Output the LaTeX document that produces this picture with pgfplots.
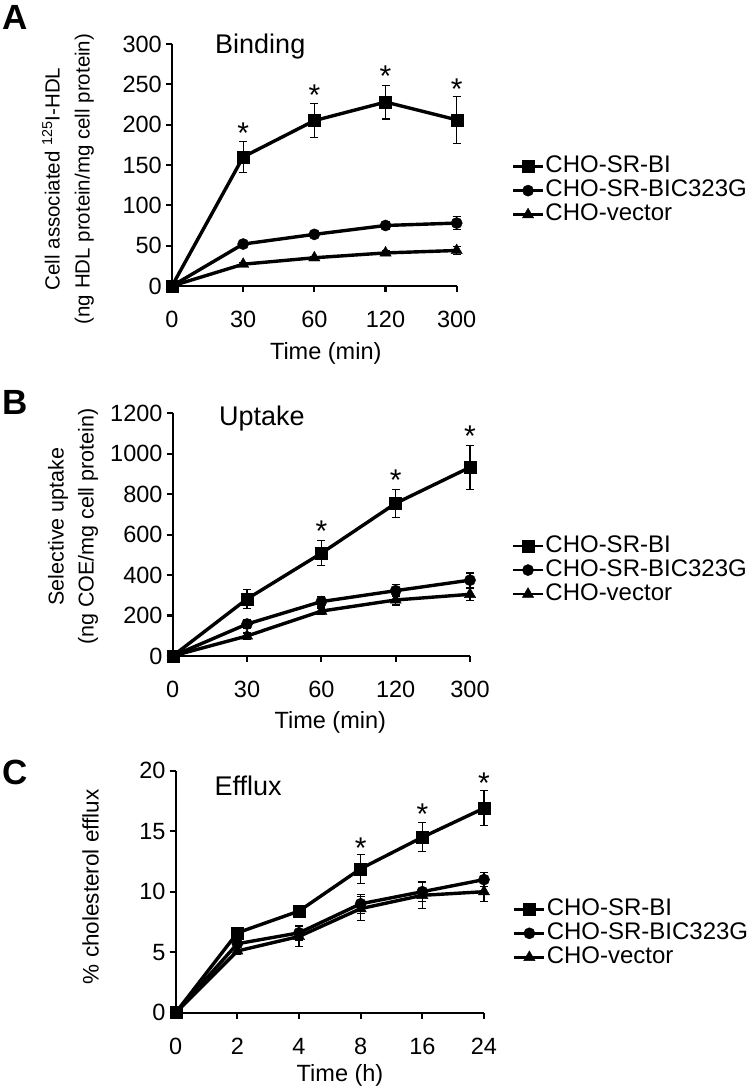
\documentclass[border=0pt]{standalone}
\usepackage{fontspec}
\setmainfont{Liberation Sans}
\usepackage{pgfplots}
\pgfplotsset{compat=1.18}

\pgfplotsset{
  base/.style={
    scale only axis, clip=false,
    axis x line*=bottom, axis y line*=left,
    axis line style={line width=2.2pt, black},
    every tick/.style={line width=2.2pt, black},
    tick align=outside, major tick length=6pt,
    xtick pos=bottom, ytick pos=left,
    /pgf/number format/assume math mode=true,
    /pgf/number format/1000 sep={},
    scaled y ticks=false,
    tick label style={font=\fontsize{23.5}{27}\selectfont},
    yticklabel style={inner sep=4pt},
    xticklabel style={inner sep=3pt, yshift=-16pt},
    xlabel style={font=\fontsize{23.5}{27}\selectfont, anchor=center},
    ylabel style={align=center, anchor=center},
    title style={font=\fontsize{27}{30}\selectfont, anchor=center},
    legend style={draw=none, fill=none, anchor=west, inner sep=0pt, outer sep=0pt,
      font=\fontsize{24}{25}\selectfont, row sep=0pt,
      nodes={inner sep=1pt, text height=17pt, text depth=5pt}},
    legend cell align=left,
    legend image code/.code={\draw[##1, line width=2.8pt, mark repeat=2, mark phase=2] plot coordinates {(0pt,0pt) (15pt,0pt) (30pt,0pt)};},
  },
  ser/.style={black, line width=3.4pt, mark options={solid, line width=0.4pt},
    error bars/y dir=both, error bars/y explicit,
    error bars/error bar style={line width=1.2pt, solid},
    error bars/error mark options={rotate=90, mark size=4pt, line width=1.2pt}},
  sq/.style={ser, mark=square*, mark size=6pt},
  ci/.style={ser, mark=*, mark size=5.6pt},
  tr/.style={ser, mark=triangle*, mark size=6.5pt},
  star/.style={only marks, forget plot, mark=text, text mark={*}, text mark as node=true,
    text mark style={font=\fontsize{30}{30}\selectfont, yshift=-6pt}},
}

\begin{document}
\begin{tikzpicture}[x=1pt,y=1pt]
\path[use as bounding box] (0,0) rectangle (747,1086);

% Panel A
\begin{axis}[base, at={(172pt,800pt)}, anchor=south west,
  width=284.7pt, height=242pt,
  xmin=0, xmax=4, ymin=0, ymax=300,
  xtick={0,1,2,3,4}, xticklabels={0,30,60,120,300},
  ytick={0,50,100,150,200,250,300},
  xlabel={Time (min)}, xlabel style={at={(axis description cs:0.54,-0.278)}},
  ylabel={Cell associated \textsuperscript{125}I-HDL\\(ng HDL protein/mg cell protein)},
  ylabel style={font=\fontsize{20.5}{30}\selectfont, at={(axis description cs:-0.365,0.442)}},
  title={Binding}, title style={at={(axis description cs:0.31,0.963)}},
  legend style={at={(axis description cs:1.193,0.394)}},
]
\addplot[sq] coordinates {(0,0) +- (0,0) (1,160) +- (0,19) (2,205) +- (0,21) (3,228) +- (0,21) (4,206) +- (0,29)};
\addplot[ci] coordinates {(0,0) +- (0,0) (1,52) +- (0,3) (2,64) +- (0,3) (3,75) +- (0,5) (4,78) +- (0,8)};
\addplot[tr] coordinates {(0,0) +- (0,0) (1,27) +- (0,2) (2,35) +- (0,2) (3,41) +- (0,3) (4,44) +- (0,5)};
\addplot[star] coordinates {(1,197) (2,244) (3,268) (4,252)};
\legend{CHO-SR-BI, CHO-SR-BIC323G, CHO-vector}
\end{axis}

% Panel B
\begin{axis}[base, at={(172.7pt,430pt)}, anchor=south west,
  width=297.3pt, height=242.7pt,
  xmin=0, xmax=4, ymin=0, ymax=1200,
  xtick={0,1,2,3,4}, xticklabels={0,30,60,120,300},
  ytick={0,200,400,600,800,1000,1200},
  xlabel={Time (min)}, xlabel style={at={(axis description cs:0.53,-0.272)}},
  ylabel={Selective uptake\\(ng COE/mg cell protein)},
  ylabel style={font=\fontsize{21.5}{30}\selectfont, at={(axis description cs:-0.335,0.533)}},
  title={Uptake}, title style={at={(axis description cs:0.30,0.952)}},
  legend style={at={(axis description cs:1.140,0.354)}},
]
\addplot[sq] coordinates {(0,0) +- (0,0) (1,282) +- (0,48) (2,508) +- (0,62) (3,755) +- (0,69) (4,933) +- (0,109)};
\addplot[ci] coordinates {(0,0) +- (0,0) (1,158) +- (0,20) (2,269) +- (0,25) (3,323) +- (0,30) (4,375) +- (0,35)};
\addplot[tr] coordinates {(0,0) +- (0,0) (1,99) +- (0,15) (2,222) +- (0,15) (3,277) +- (0,25) (4,305) +- (0,30)};
\addplot[star] coordinates {(2,648) (3,898) (4,1118)};
\legend{CHO-SR-BI, CHO-SR-BIC323G, CHO-vector}
\end{axis}

% Panel C
\begin{axis}[base, at={(175.7pt,73.3pt)}, anchor=south west,
  width=308.3pt, height=242pt,
  xmin=0, xmax=5, ymin=0, ymax=20,
  xtick={0,1,2,3,4,5}, xticklabels={0,2,4,8,16,24},
  ytick={0,5,10,15,20},
  xlabel={Time (h)}, xlabel style={at={(axis description cs:0.533,-0.258)}},
  ylabel={\% cholesterol efflux},
  ylabel style={font=\fontsize{22.5}{30}\selectfont, at={(axis description cs:-0.276,0.52)}},
  title={Efflux}, title style={at={(axis description cs:0.235,0.913)}},
  legend style={at={(axis description cs:1.094,0.328)}},
]
\addplot[sq] coordinates {(0,0) +- (0,0) (1,6.6) +- (0,0.3) (2,8.4) +- (0,0.4) (3,11.9) +- (0,1.2) (4,14.5) +- (0,1.2) (5,16.9) +- (0,1.45)};
\addplot[ci] coordinates {(0,0) +- (0,0) (1,5.7) +- (0,0.3) (2,6.6) +- (0,0.6) (3,9.0) +- (0,0.8) (4,10.0) +- (0,0.8) (5,11.0) +- (0,0.6)};
\addplot[tr] coordinates {(0,0) +- (0,0) (1,5.1) +- (0,0.3) (2,6.3) +- (0,0.8) (3,8.6) +- (0,1.0) (4,9.7) +- (0,1.1) (5,10.0) +- (0,0.8)};
\addplot[star] coordinates {(3,14.1) (4,16.9) (5,19.5)};
\legend{CHO-SR-BI, CHO-SR-BIC323G, CHO-vector}
\end{axis}

\node[font=\bfseries\fontsize{35}{35}\selectfont] at (15,1068.5) {A};
\node[font=\bfseries\fontsize{35}{35}\selectfont] at (15,684) {B};
\node[font=\bfseries\fontsize{35}{35}\selectfont] at (15,313.5) {C};
\end{tikzpicture}
\end{document}
